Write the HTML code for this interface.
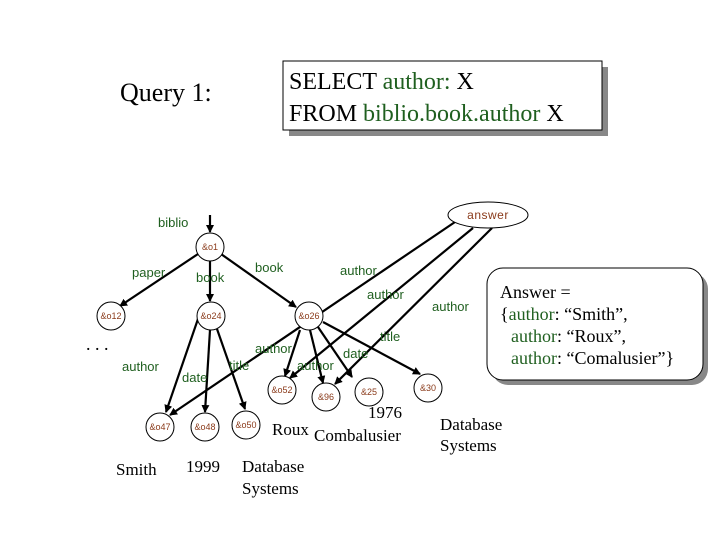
<!DOCTYPE html>
<html><head><meta charset="utf-8"><style>
html,body{margin:0;padding:0;background:#fff;}
svg{display:block;}
.g{font-family:"Liberation Sans",sans-serif;font-size:13px;fill:#1f5f1f;}
.n{font-family:"Liberation Sans",sans-serif;font-size:9px;fill:#8a3a1a;text-anchor:middle;}
.s{font-family:"Liberation Serif",serif;fill:#000;}
</style></head><body>
<svg width="720" height="540" viewBox="0 0 720 540" xmlns="http://www.w3.org/2000/svg">
<defs><marker id="a" markerWidth="8" markerHeight="8" refX="7" refY="4" orient="auto" markerUnits="userSpaceOnUse"><path d="M0,0 L8,4 L0,8 z" fill="#000"/></marker></defs>
<text x="120" y="101" class="s" font-size="26">Query 1:</text>
<rect x="289" y="67" width="319" height="69" fill="#888"/>
<rect x="283" y="61" width="319" height="69" fill="#fff" stroke="#000" stroke-width="1"/>
<text x="289" y="89" class="s" font-size="24">SELECT <tspan fill="#1f5f1f">author:</tspan> X</text>
<text x="289" y="121" class="s" font-size="24">FROM <tspan fill="#1f5f1f">biblio.book.author</tspan> X</text>

<g stroke="#000" stroke-width="2.2" fill="none" marker-end="url(#a)">
<line x1="210" y1="215" x2="210" y2="232"/>
<line x1="198" y1="254" x2="120" y2="306"/>
<line x1="210" y1="261" x2="210" y2="301"/>
<line x1="221" y1="254" x2="296" y2="307"/>
<line x1="199" y1="316" x2="166" y2="412"/>
<line x1="210" y1="330" x2="205" y2="412"/>
<line x1="217" y1="329" x2="245" y2="409"/>
<line x1="300" y1="330" x2="285" y2="376"/>
<line x1="310" y1="330" x2="323" y2="383"/>
<line x1="318" y1="327" x2="352" y2="377"/>
<line x1="323" y1="322" x2="420" y2="374"/>
<line x1="455" y1="222" x2="170" y2="415"/>
<line x1="473" y1="228" x2="290" y2="378"/>
<line x1="492" y1="228" x2="335" y2="384"/>
</g>

<ellipse cx="488" cy="215" rx="40" ry="13" fill="#fff" stroke="#000"/>
<text x="488" y="219" class="n" style="font-size:12px" letter-spacing="0.5">answer</text>
<g fill="#fff" stroke="#000" stroke-width="1">
<circle cx="210" cy="247" r="14"/>
<circle cx="111" cy="316" r="14"/>
<circle cx="211" cy="316" r="14"/>
<circle cx="309" cy="316" r="14"/>
<circle cx="160" cy="427" r="14"/>
<circle cx="205" cy="427" r="14"/>
<circle cx="246" cy="425" r="14"/>
<circle cx="282" cy="390" r="14"/>
<circle cx="326" cy="397" r="14"/>
<circle cx="369" cy="392" r="14"/>
<circle cx="428" cy="388" r="14"/>
</g>
<text x="210" y="250" class="n">&amp;o1</text>
<text x="111" y="319" class="n">&amp;o12</text>
<text x="211" y="319" class="n">&amp;o24</text>
<text x="309" y="319" class="n">&amp;o26</text>
<text x="160" y="430" class="n">&amp;o47</text>
<text x="205" y="430" class="n">&amp;o48</text>
<text x="246" y="428" class="n">&amp;o50</text>
<text x="282" y="393" class="n">&amp;o52</text>
<text x="326" y="400" class="n">&amp;96</text>
<text x="369" y="395" class="n">&amp;25</text>
<text x="428" y="391" class="n">&amp;30</text>

<text x="158" y="227" class="g">biblio</text>
<text x="132" y="277" class="g">paper</text>
<text x="196" y="282" class="g">book</text>
<text x="255" y="272" class="g">book</text>
<text x="340" y="275" class="g">author</text>
<text x="367" y="299" class="g">author</text>
<text x="432" y="311" class="g">author</text>
<text x="380" y="341" class="g">title</text>
<text x="343" y="358" class="g">date</text>
<text x="255" y="353" class="g">author</text>
<text x="297" y="370" class="g">author</text>
<text x="229" y="370" class="g">title</text>
<text x="182" y="382" class="g">date</text>
<text x="122" y="371" class="g">author</text>
<text x="86" y="350" class="s" font-size="18">. . .</text>

<text x="116" y="475" class="s" font-size="17">Smith</text>
<text x="186" y="472" class="s" font-size="17">1999</text>
<text x="242" y="472" class="s" font-size="17">Database</text>
<text x="242" y="494" class="s" font-size="17">Systems</text>
<text x="272" y="435" class="s" font-size="17">Roux</text>
<text x="314" y="441" class="s" font-size="17">Combalusier</text>
<text x="368" y="418" class="s" font-size="17">1976</text>
<text x="440" y="430" class="s" font-size="17">Database</text>
<text x="440" y="451" class="s" font-size="17">Systems</text>

<rect x="492" y="273" width="216" height="112" rx="16" fill="#888"/>
<rect x="487" y="268" width="216" height="112" rx="16" fill="#fff" stroke="#000"/>
<text x="500" y="298" class="s" font-size="18">Answer =</text>
<text x="500" y="320" class="s" font-size="18">{<tspan fill="#1f5f1f">author</tspan>: “Smith”,</text>
<text x="511" y="342" class="s" font-size="18"><tspan fill="#1f5f1f">author</tspan>: “Roux”,</text>
<text x="511" y="364" class="s" font-size="18"><tspan fill="#1f5f1f">author</tspan>: “Comalusier”}</text>
</svg>
</body></html>
